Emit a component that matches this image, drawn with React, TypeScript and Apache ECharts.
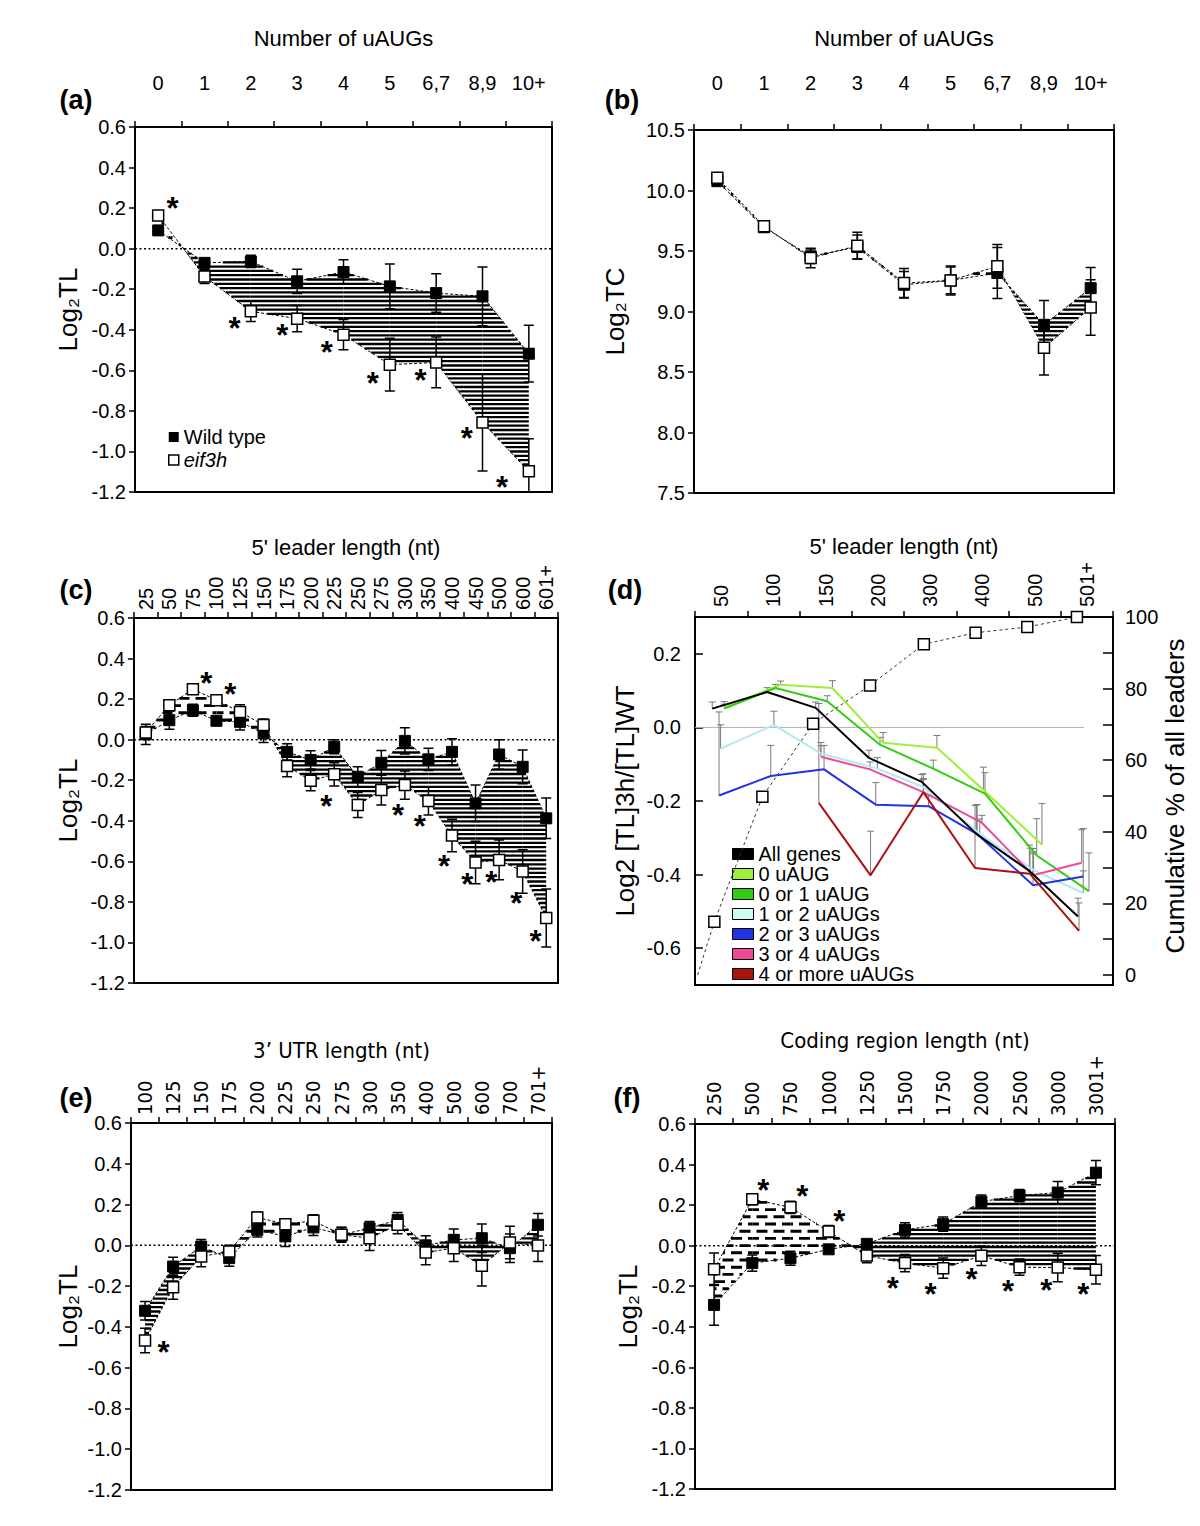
import React, { useEffect, useRef } from 'react';
import * as echarts from 'echarts';

const FONT = '"Liberation Sans", Arial, Helvetica, sans-serif';
const NARROW = '"Liberation Sans Narrow", "DejaVu Sans Condensed", "Liberation Sans", sans-serif';

// ---------- (a) & (b): Number of uAUGs ----------
const uaugCats = ['0', '1', '2', '3', '4', '5', '6,7', '8,9', '10+'];
const aWT = [0.09, -0.07, -0.063, -0.161, -0.115, -0.186, -0.219, -0.235, -0.518];
const aWTErr = [0.02, 0.02, 0.03, 0.06, 0.06, 0.11, 0.095, 0.145, 0.14];
const aEif = [0.164, -0.137, -0.309, -0.345, -0.424, -0.572, -0.561, -0.857, -1.098];
const aEifErr = [0.02, 0.035, 0.05, 0.065, 0.075, 0.13, 0.125, 0.24, 0.16];
const aStarX = [0.31, 1.65, 2.68, 3.64, 4.63, 5.66, 6.66, 7.42];
const aStarY = [0.233, -0.358, -0.396, -0.478, -0.63, -0.617, -0.904, -1.144];

const bWT = [10.077, 9.696, 9.456, 9.533, 9.221, 9.257, 9.318, 8.89, 9.193];
const bWTErr = [0.03, 0.03, 0.06, 0.1, 0.11, 0.11, 0.21, 0.2, 0.17];
const bEif = [10.105, 9.704, 9.442, 9.544, 9.235, 9.257, 9.373, 8.7, 9.033];
const bEifErr = [0.03, 0.03, 0.08, 0.11, 0.12, 0.12, 0.18, 0.225, 0.23];

// ---------- (c): 5' leader length ----------
const leaderCats = ['25', '50', '75', '100', '125', '150', '175', '200', '225', '250', '275', '300', '350', '400', '450', '500', '600', '601+'];
const cWT = [0.026, 0.096, 0.145, 0.093, 0.088, 0.031, -0.06, -0.1, -0.035, -0.183, -0.114, -0.006, -0.097, -0.06, -0.314, -0.073, -0.134, -0.388];
const cWTErr = [0.05, 0.045, 0.03, 0.02, 0.04, 0.045, 0.04, 0.045, 0.035, 0.05, 0.06, 0.065, 0.055, 0.065, 0.09, 0.073, 0.083, 0.1];
const cEif = [0.035, 0.17, 0.249, 0.195, 0.137, 0.072, -0.13, -0.202, -0.171, -0.322, -0.248, -0.224, -0.303, -0.473, -0.606, -0.593, -0.65, -0.88];
const cEifErr = [0.03, 0.025, 0.025, 0.02, 0.035, 0.03, 0.053, 0.05, 0.057, 0.062, 0.074, 0.07, 0.068, 0.08, 0.105, 0.098, 0.107, 0.143];
const cStarX = [2.57, 3.59, 7.66, 10.71, 11.63, 12.66, 13.65, 14.67, 15.73, 16.55];
const cStarY = [0.313, 0.257, -0.298, -0.339, -0.393, -0.59, -0.683, -0.672, -0.773, -0.962];

// ---------- (d): 5' leader length by uAUG class ----------
const dCats = ['50', '100', '150', '200', '300', '400', '500', '501+'];
const cumX = [-0.45, -0.13, 0.79, 1.76, 2.85, 3.88, 4.87, 5.86, 6.81];
const cumY = [0, 14.9, 49.8, 70.2, 80.9, 92.4, 95.6, 97.2, 100];

const allX = [-0.17, 0.88, 1.81, 2.83, 3.84, 4.89, 5.9, 6.83];
const allY = [0.051, 0.096, 0.053, -0.083, -0.148, -0.29, -0.39, -0.514];
const allErr = [0.018, 0.012, 0.016, 0.021, 0.02, 0.08, 0.07, 0.05];
const u0X = [0.06, 1.14, 2.13, 3.1, 4.13, 5.02, 6.14];
const u0Y = [0.055, 0.116, 0.107, -0.042, -0.055, -0.17, -0.319];
const u0Err = [0.015, 0.01, 0.02, 0.028, 0.033, 0.062, 0.112];
const u01X = [0.06, 1.04, 2.03, 3.04, 4.06, 5.05, 6.04, 7.04];
const u01Y = [0.051, 0.107, 0.071, -0.047, -0.112, -0.18, -0.348, -0.445];
const u01Err = [0.012, 0.01, 0.015, 0.02, 0.023, 0.057, 0.1, 0.104];
const u12X = [-0.01, 1.01, 1.91, 2.99, 3.87, 4.95, 5.98, 6.93];
const u12Y = [-0.058, 0.007, -0.071, -0.112, -0.162, -0.289, -0.388, -0.45];
const u12Err = [0.065, 0.037, 0.03, 0.03, 0.02, 0.04, 0.05, 0.06];
const u23X = [-0.04, 0.95, 1.97, 2.96, 3.97, 4.9, 5.97, 6.93];
const u23Y = [-0.185, -0.132, -0.114, -0.21, -0.214, -0.29, -0.429, -0.405];
const u23Err = [0.227, 0.083, 0.065, 0.06, 0.03, 0.08, 0.1, 0.13];
const u34X = [1.91, 2.85, 3.87, 4.99, 5.97, 6.9];
const u34Y = [-0.08, -0.114, -0.176, -0.259, -0.402, -0.368];
const u34Err = [0.03, 0.02, 0.05, 0.02, 0.06, 0.09];
const u4X = [1.87, 2.86, 3.87, 4.86, 5.91, 6.85];
const u4Y = [-0.205, -0.402, -0.176, -0.382, -0.398, -0.553];
const u4Err = [0.27, 0.12, 0.037, 0.17, 0.07, 0.076];

const dNames = ['All genes', '0 uAUG', '0 or 1 uAUG', '1 or 2 uAUGs', '2 or 3 uAUGs', '3 or 4 uAUGs', '4 or more uAUGs'];
const dColors = ['#000000', '#9cef3a', '#33cc14', '#b4e8f2', '#2233e6', '#ee4a9c', '#aa1111'];
const dLegendColors = ['#000000', '#9cef3a', '#33cc14', '#ccfff0', '#2233e6', '#ee4a9c', '#aa1111'];

// ---------- (e): 3' UTR length ----------
const utrCats = ['100', '125', '150', '175', '200', '225', '250', '275', '300', '350', '400', '500', '600', '700', '701+'];
const eWT = [-0.321, -0.104, -0.006, -0.063, 0.076, 0.044, 0.088, 0.052, 0.084, 0.125, -0.001, 0.027, 0.035, -0.014, 0.101];
const eWTErr = [0.045, 0.045, 0.035, 0.04, 0.035, 0.05, 0.04, 0.037, 0.033, 0.036, 0.048, 0.053, 0.07, 0.07, 0.055];
const eEif = [-0.467, -0.205, -0.055, -0.03, 0.137, 0.104, 0.12, 0.052, 0.035, 0.101, -0.035, -0.014, -0.1, 0.014, -0.001];
const eEifErr = [0.06, 0.06, 0.05, 0.03, 0.025, 0.02, 0.03, 0.035, 0.06, 0.044, 0.06, 0.065, 0.1, 0.08, 0.078];
const eStarX = [0.66];
const eStarY = [-0.492];

// ---------- (f): coding region length ----------
const cdsCats = ['250', '500', '750', '1000', '1250', '1500', '1750', '2000', '2500', '3000', '3001+'];
const fWT = [-0.292, -0.086, -0.062, -0.018, 0.009, 0.078, 0.106, 0.217, 0.247, 0.262, 0.36];
const fWTErr = [0.1, 0.04, 0.035, 0.02, 0.02, 0.035, 0.035, 0.033, 0.03, 0.055, 0.06];
const fEif = [-0.116, 0.229, 0.189, 0.07, -0.049, -0.086, -0.111, -0.05, -0.106, -0.108, -0.119];
const fEifErr = [0.08, 0.027, 0.03, 0.03, 0.035, 0.043, 0.05, 0.048, 0.04, 0.07, 0.07];
const fStarX = [1.29, 2.31, 3.28, 4.68, 5.67, 6.74, 7.7, 8.7, 9.67];
const fStarY = [0.304, 0.275, 0.152, -0.18, -0.205, -0.132, -0.193, -0.185, -0.205];

// ---------- rendering helpers ----------
const SOLID_PITCH = 4.3;
const SOLID_W = 2.3;
const DASH_PITCH = 7.2;
const DASH_W = 2.9;
const DASH_LEN = 11;
const DASH_GAP = 6;

function scanPoly(poly: number[][], dashed: boolean): string {
  let minY = Infinity;
  let maxY = -Infinity;
  for (const p of poly) {
    minY = Math.min(minY, p[1]);
    maxY = Math.max(maxY, p[1]);
  }
  const pitch = dashed ? DASH_PITCH : SOLID_PITCH;
  let d = '';
  const k0 = Math.ceil(minY / pitch);
  const k1 = Math.floor(maxY / pitch);
  for (let k = k0; k <= k1; k++) {
    const y = k * pitch;
    let xl = Infinity;
    let xr = -Infinity;
    for (let j = 0; j < poly.length; j++) {
      const p = poly[j];
      const q = poly[(j + 1) % poly.length];
      if (p[1] === q[1]) continue;
      if ((p[1] - y) * (q[1] - y) > 0) continue;
      const x = p[0] + ((y - p[1]) / (q[1] - p[1])) * (q[0] - p[0]);
      xl = Math.min(xl, x);
      xr = Math.max(xr, x);
    }
    if (!(xr - xl > 0.8)) continue;
    const ys = y.toFixed(1);
    if (!dashed) {
      d += `M${xl.toFixed(1)} ${ys}L${xr.toFixed(1)} ${ys}`;
    } else {
      const period = DASH_LEN + DASH_GAP;
      const off = Math.abs(k) % 2 === 0 ? 0 : period / 2;
      let s = Math.floor((xl - off) / period) * period + off;
      for (; s < xr; s += period) {
        const a = Math.max(s, xl);
        const b = Math.min(s + DASH_LEN, xr);
        if (b - a > 0.8) d += `M${a.toFixed(1)} ${ys}L${b.toFixed(1)} ${ys}`;
      }
    }
  }
  return d;
}

function hatchItem(params: any, api: any) {
  const i = api.value(0);
  const a0 = api.coord([i, api.value(1)]);
  const b0 = api.coord([i, api.value(2)]);
  const a1 = api.coord([i + 1, api.value(3)]);
  const b1 = api.coord([i + 1, api.value(4)]);
  const d0 = a0[1] - b0[1];
  const d1 = a1[1] - b1[1];
  const polys: [number[][], boolean][] = [];
  if (d0 * d1 < 0) {
    const t = d0 / (d0 - d1);
    const c = [a0[0] + t * (a1[0] - a0[0]), a0[1] + t * (a1[1] - a0[1])];
    polys.push([[a0, b0, c], d0 > 0]);
    polys.push([[c, a1, b1], d1 > 0]);
  } else {
    polys.push([[a0, a1, b1, b0], d0 + d1 > 0]);
  }
  const children: any[] = [];
  for (const [poly, dashed] of polys) {
    const d = scanPoly(poly, dashed);
    if (d) {
      children.push({
        type: 'path',
        shape: { pathData: d },
        style: { stroke: '#000', lineWidth: dashed ? DASH_W : SOLID_W, fill: 'none' },
      });
    }
  }
  return { type: 'group', children };
}

function errItem(params: any, api: any) {
  const x = api.value(0);
  const v = api.value(1);
  const e = api.value(2);
  const top = api.coord([x, v + e]);
  const bot = api.coord([x, v - e]);
  const cw = 5;
  const d =
    `M${top[0]} ${top[1]}L${bot[0]} ${bot[1]}` +
    `M${top[0] - cw} ${top[1]}L${top[0] + cw} ${top[1]}` +
    `M${bot[0] - cw} ${bot[1]}L${bot[0] + cw} ${bot[1]}`;
  return { type: 'path', shape: { pathData: d }, style: { stroke: '#000', lineWidth: 1.5, fill: 'none' } };
}

function errUpItem(params: any, api: any) {
  const x = api.value(0);
  const v = api.value(1);
  const e = api.value(2);
  const p = api.coord([x, v]);
  const top = api.coord([x, v + e]);
  const cw = 3.5;
  const d = `M${p[0]} ${p[1]}L${top[0]} ${top[1]}M${top[0] - cw} ${top[1]}L${top[0] + cw} ${top[1]}`;
  return { type: 'path', shape: { pathData: d }, style: { stroke: '#7a7a7a', lineWidth: 1, fill: 'none' } };
}

const STAR_SIZE = 31;
function starItem(params: any, api: any) {
  const p = api.coord([api.value(0), api.value(1)]);
  return {
    type: 'text',
    x: p[0],
    y: p[1] + STAR_SIZE * 0.22,
    style: {
      text: '*',
      fontSize: STAR_SIZE,
      fontFamily: FONT,
      fontWeight: 'bold',
      fill: '#000',
      align: 'center',
      verticalAlign: 'middle',
    },
  };
}

const zip = (xs: number[], ys: number[]) => xs.map((x, i) => [x, ys[i]]);

function buildOption() {
  const grid: any[] = [];
  const xAxis: any[] = [];
  const yAxis: any[] = [];
  const series: any[] = [];
  const legend: any[] = [];
  const graphic: any[] = [];

  const axisLineBlack = { show: true, onZero: false, lineStyle: { color: '#000', width: 2 } };
  const tickBlack = (inside: boolean, length: number) => ({ show: true, inside, length, lineStyle: { color: '#000', width: 1.5 } });

  type P = {
    left: number; top: number; width: number; height: number;
    cats: string[]; rotate: number; labelMargin: number; labelSize: number; labelFont: string;
    title: string; titleGap: number; titleSize: number; titleFont: string;
    yMin: number; yMax: number; yInterval: number; yName: string; yNameGap: number;
    wt: number[]; wtErr: number[]; eif: number[]; eifErr: number[];
    starX: number[]; starY: number[];
  };

  function tlPanel(p: P) {
    const n = p.cats.length;
    const g = grid.push({
      left: p.left, top: p.top, width: p.width, height: p.height,
      show: true, borderColor: '#000', borderWidth: 2, containLabel: false, outerBoundsMode: 'none',
    }) - 1;
    xAxis.push({
      type: 'category', gridIndex: g, position: 'top', data: p.cats, boundaryGap: true,
      axisLine: axisLineBlack,
      axisTick: { ...tickBlack(false, 6), alignWithLabel: false, interval: 0 },
      axisLabel: {
        interval: 0, rotate: p.rotate, color: '#000', fontSize: p.labelSize, fontFamily: p.labelFont,
        margin: p.labelMargin, hideOverlap: false,
      },
      splitLine: { show: false },
      name: p.title, nameLocation: 'middle', nameGap: p.titleGap,
      nameTextStyle: { color: '#000', fontSize: p.titleSize, fontFamily: p.titleFont },
    });
    const xv = xAxis.push({ type: 'value', gridIndex: g, min: -0.5, max: n - 0.5, show: false }) - 1;
    const yi = yAxis.push({
      type: 'value', gridIndex: g, min: p.yMin, max: p.yMax, interval: p.yInterval,
      axisLine: axisLineBlack,
      axisTick: tickBlack(false, 6),
      axisLabel: { color: '#000', fontSize: 20, fontFamily: FONT, margin: 9, formatter: (v: number) => v.toFixed(1) },
      splitLine: { show: false },
      name: p.yName, nameLocation: 'middle', nameRotate: 90, nameGap: p.yNameGap,
      nameTextStyle: { color: '#000', fontSize: 26, fontFamily: FONT },
    }) - 1;

    const common = { xAxisIndex: xv, yAxisIndex: yi, silent: true, animation: false };
    if (p.yMin < 0 && p.yMax > 0) {
      series.push({
        ...common, type: 'line', name: 'zero', data: [[-0.5, 0], [n - 0.5, 0]], symbol: 'none',
        lineStyle: { color: '#000', width: 1.5, type: [2, 2.5] }, z: 1,
      });
    }
    const segs: number[][] = [];
    for (let i = 0; i < n - 1; i++) segs.push([i, p.wt[i], p.eif[i], p.wt[i + 1], p.eif[i + 1]]);
    series.push({ ...common, type: 'custom', name: 'hatch', data: segs, renderItem: hatchItem, z: 2 });
    const errs: number[][] = [];
    for (let i = 0; i < n; i++) {
      errs.push([i, p.wt[i], p.wtErr[i]]);
      errs.push([i, p.eif[i], p.eifErr[i]]);
    }
    series.push({ ...common, type: 'custom', name: 'err', data: errs, renderItem: errItem, clip: true, z: 3 });
    series.push({
      ...common, type: 'line', name: 'Wild type', data: p.wt.map((v, i) => [i, v]),
      symbol: 'rect', symbolSize: 11, showSymbol: true,
      itemStyle: { color: '#000', borderColor: '#000', borderWidth: 1 },
      lineStyle: { color: '#000', width: 1, type: [3, 2] }, z: 4,
    });
    series.push({
      ...common, type: 'line', name: 'eif3h', data: p.eif.map((v, i) => [i, v]),
      symbol: 'rect', symbolSize: 11, showSymbol: true,
      itemStyle: { color: '#fff', borderColor: '#000', borderWidth: 1.5 },
      lineStyle: { color: '#000', width: 1, type: [3, 2] }, z: 5,
    });
    if (p.starX.length) {
      series.push({ ...common, type: 'custom', name: 'stars', data: zip(p.starX, p.starY), renderItem: starItem, z: 6 });
    }
  }

  // (a)
  tlPanel({
    left: 135, top: 127, width: 417, height: 365,
    cats: uaugCats, rotate: 0, labelMargin: 34, labelSize: 20, labelFont: FONT,
    title: 'Number of uAUGs', titleGap: 78, titleSize: 22, titleFont: FONT,
    yMin: -1.2, yMax: 0.6, yInterval: 0.2, yName: 'Log₂TL', yNameGap: 54,
    wt: aWT, wtErr: aWTErr, eif: aEif, eifErr: aEifErr, starX: aStarX, starY: aStarY,
  });
  // (b)
  tlPanel({
    left: 694, top: 130, width: 420, height: 363,
    cats: uaugCats, rotate: 0, labelMargin: 37, labelSize: 20, labelFont: FONT,
    title: 'Number of uAUGs', titleGap: 81, titleSize: 22, titleFont: FONT,
    yMin: 7.5, yMax: 10.5, yInterval: 0.5, yName: 'Log₂TC', yNameGap: 66,
    wt: bWT, wtErr: bWTErr, eif: bEif, eifErr: bEifErr, starX: [], starY: [],
  });
  // (c)
  tlPanel({
    left: 134, top: 618, width: 424, height: 365,
    cats: leaderCats, rotate: -90, labelMargin: 8, labelSize: 20, labelFont: FONT,
    title: "5' leader length (nt)", titleGap: 60, titleSize: 22, titleFont: FONT,
    yMin: -1.2, yMax: 0.6, yInterval: 0.2, yName: 'Log₂TL', yNameGap: 53,
    wt: cWT, wtErr: cWTErr, eif: cEif, eifErr: cEifErr, starX: cStarX, starY: cStarY,
  });
  // (e)
  tlPanel({
    left: 131, top: 1123, width: 421, height: 367,
    cats: utrCats, rotate: -90, labelMargin: 8, labelSize: 20, labelFont: NARROW,
    title: '3’ UTR length (nt)', titleGap: 58, titleSize: 22, titleFont: NARROW,
    yMin: -1.2, yMax: 0.6, yInterval: 0.2, yName: 'Log₂TL', yNameGap: 50,
    wt: eWT, wtErr: eWTErr, eif: eEif, eifErr: eEifErr, starX: eStarX, starY: eStarY,
  });
  // (f)
  tlPanel({
    left: 695, top: 1124, width: 420, height: 365,
    cats: cdsCats, rotate: -90, labelMargin: 8, labelSize: 20, labelFont: NARROW,
    title: 'Coding region length (nt)', titleGap: 70, titleSize: 22, titleFont: NARROW,
    yMin: -1.2, yMax: 0.6, yInterval: 0.2, yName: 'Log₂TL', yNameGap: 54,
    wt: fWT, wtErr: fWTErr, eif: fEif, eifErr: fEifErr, starX: fStarX, starY: fStarY,
  });

  // (d)
  const dL = 695, dT = 617, dW = 418, dH = 368;
  const gd = grid.push({ left: dL, top: dT, width: dW, height: dH, show: true, borderColor: '#000', borderWidth: 2, outerBoundsMode: 'none' }) - 1;
  xAxis.push({
    type: 'category', gridIndex: gd, position: 'top', data: dCats, boundaryGap: true,
    axisLine: axisLineBlack,
    axisTick: { ...tickBlack(false, 6), alignWithLabel: false, interval: 0 },
    axisLabel: { interval: 0, rotate: -90, color: '#000', fontSize: 20, fontFamily: FONT, margin: 10, hideOverlap: false },
    splitLine: { show: false },
    name: "5' leader length (nt)", nameLocation: 'middle', nameGap: 60,
    nameTextStyle: { color: '#000', fontSize: 22, fontFamily: FONT },
  });
  const dxv = xAxis.push({ type: 'value', gridIndex: gd, min: -0.5, max: 7.5, show: false }) - 1;
  const dyi = yAxis.push({
    type: 'value', gridIndex: gd, min: -0.7, max: 0.3,
    axisLine: axisLineBlack, axisTick: { show: false }, axisLabel: { show: false }, splitLine: { show: false },
  }) - 1;
  const gdl = grid.push({ left: dL, top: dT + 0.1 * dH, width: dW, height: 0.8 * dH, show: false, outerBoundsMode: 'none' }) - 1;
  xAxis.push({ type: 'value', gridIndex: gdl, min: 0, max: 1, show: false });
  yAxis.push({
    type: 'value', gridIndex: gdl, min: -0.6, max: 0.2, interval: 0.2,
    axisLine: { show: false, onZero: false }, axisTick: tickBlack(true, 8),
    axisLabel: { color: '#000', fontSize: 20, fontFamily: FONT, margin: 14, formatter: (v: number) => v.toFixed(1) },
    splitLine: { show: false },
    name: 'Log2 [TL]3h/[TL]WT', nameLocation: 'middle', nameRotate: 90, nameGap: 57,
    nameTextStyle: { color: '#000', fontSize: 26, fontFamily: FONT },
  });
  const gdr = grid.push({ left: dL, top: dT, width: dW, height: 358, show: false, outerBoundsMode: 'none' }) - 1;
  const rxv = xAxis.push({ type: 'value', gridIndex: gdr, min: -0.5, max: 7.5, show: false }) - 1;
  const ryi = yAxis.push({
    type: 'value', gridIndex: gdr, position: 'right', min: 0, max: 100, interval: 10,
    axisLine: { show: false, onZero: false }, axisTick: tickBlack(true, 10),
    axisLabel: { color: '#000', fontSize: 20, fontFamily: FONT, margin: 12, formatter: (v: number) => (v % 20 === 0 ? String(v) : '') },
    splitLine: { show: false },
    name: 'Cumulative % of all leaders', nameLocation: 'middle', nameRotate: 90, nameGap: 40,
    nameTextStyle: { color: '#000', fontSize: 26, fontFamily: FONT },
  }) - 1;

  const dCommon = { xAxisIndex: dxv, yAxisIndex: dyi, silent: true };
  series.push({
    ...dCommon, type: 'line', name: 'zero-d', data: [[-0.5, 0], [6.95, 0]], symbol: 'none',
    lineStyle: { color: '#b0b0b0', width: 1 }, z: 1,
  });
  series.push({
    xAxisIndex: rxv, yAxisIndex: ryi, silent: true, type: 'line', name: 'cumulative',
    data: cumX.map((x, i) => (i === 0 ? { value: [x, cumY[i]], symbol: 'none' } : [x, cumY[i]])),
    symbol: 'rect', symbolSize: 11, showSymbol: true,
    itemStyle: { color: '#fff', borderColor: '#000', borderWidth: 1.5 },
    lineStyle: { color: '#333', width: 1, type: [3, 3] }, z: 6,
  });
  const dXs = [allX, u0X, u01X, u12X, u23X, u34X, u4X];
  const dYs = [allY, u0Y, u01Y, u12Y, u23Y, u34Y, u4Y];
  const dEs = [allErr, u0Err, u01Err, u12Err, u23Err, u34Err, u4Err];
  const dErrData: number[][] = [];
  dXs.forEach((xs, k) => xs.forEach((x, i) => dErrData.push([x, dYs[k][i], dEs[k][i]])));
  series.push({ ...dCommon, type: 'custom', name: 'err-d', data: dErrData, renderItem: errUpItem, clip: true, z: 2 });
  dNames.forEach((nm, k) => {
    series.push({
      ...dCommon, type: 'line', name: nm, data: zip(dXs[k], dYs[k]), symbol: 'none', showSymbol: false,
      itemStyle: { color: dColors[k] },
      lineStyle: { color: dColors[k], width: 2 }, z: 3 + (k === 0 ? 1 : 0),
    });
  });

  legend.push({
    left: 163, top: 422, orient: 'vertical', itemWidth: 10, itemHeight: 10, itemGap: 3, selectedMode: false,
    textStyle: { fontSize: 20, fontFamily: FONT, color: '#000' },
    data: [
      { name: 'Wild type', icon: 'rect', itemStyle: { color: '#000', borderWidth: 0 } },
      { name: 'eif3h', icon: 'rect', itemStyle: { color: '#fff', borderColor: '#000', borderWidth: 1.5 }, textStyle: { fontStyle: 'italic' } },
    ],
  });
  legend.push({
    left: 727, top: 839, orient: 'vertical', itemWidth: 21, itemHeight: 11, itemGap: 0, selectedMode: false,
    textStyle: { fontSize: 20, fontFamily: FONT, color: '#000', lineHeight: 20 },
    data: dNames.map((nm, k) => ({
      name: nm, icon: 'rect', itemStyle: { color: dLegendColors[k], borderColor: '#000', borderWidth: 1 },
    })),
  });

  const letters: [string, number, number][] = [
    ['(a)', 76, 100], ['(b)', 622, 100], ['(c)', 76, 590], ['(d)', 625, 590], ['(e)', 76, 1098], ['(f)', 627, 1098],
  ];
  letters.forEach(([t, x, y]) => {
    graphic.push({
      type: 'text', x, y, silent: true,
      style: { text: t, fontSize: 27, fontWeight: 'bold', fontFamily: FONT, fill: '#000', align: 'center', verticalAlign: 'middle' },
    });
  });

  return { animation: false, backgroundColor: '#fff', grid, xAxis, yAxis, series, legend, graphic };
}

export default function App() {
  const ref = useRef<HTMLDivElement>(null);
  useEffect(() => {
    document.body.style.margin = '0';
    const chart = echarts.init(ref.current as HTMLDivElement, undefined, { renderer: 'svg', width: 1200, height: 1526 });
    chart.setOption(buildOption() as any);
    return () => chart.dispose();
  }, []);
  return <div ref={ref} style={{ width: 1200, height: 1526, position: 'absolute', left: 0, top: 0, background: '#fff' }} />;
}
